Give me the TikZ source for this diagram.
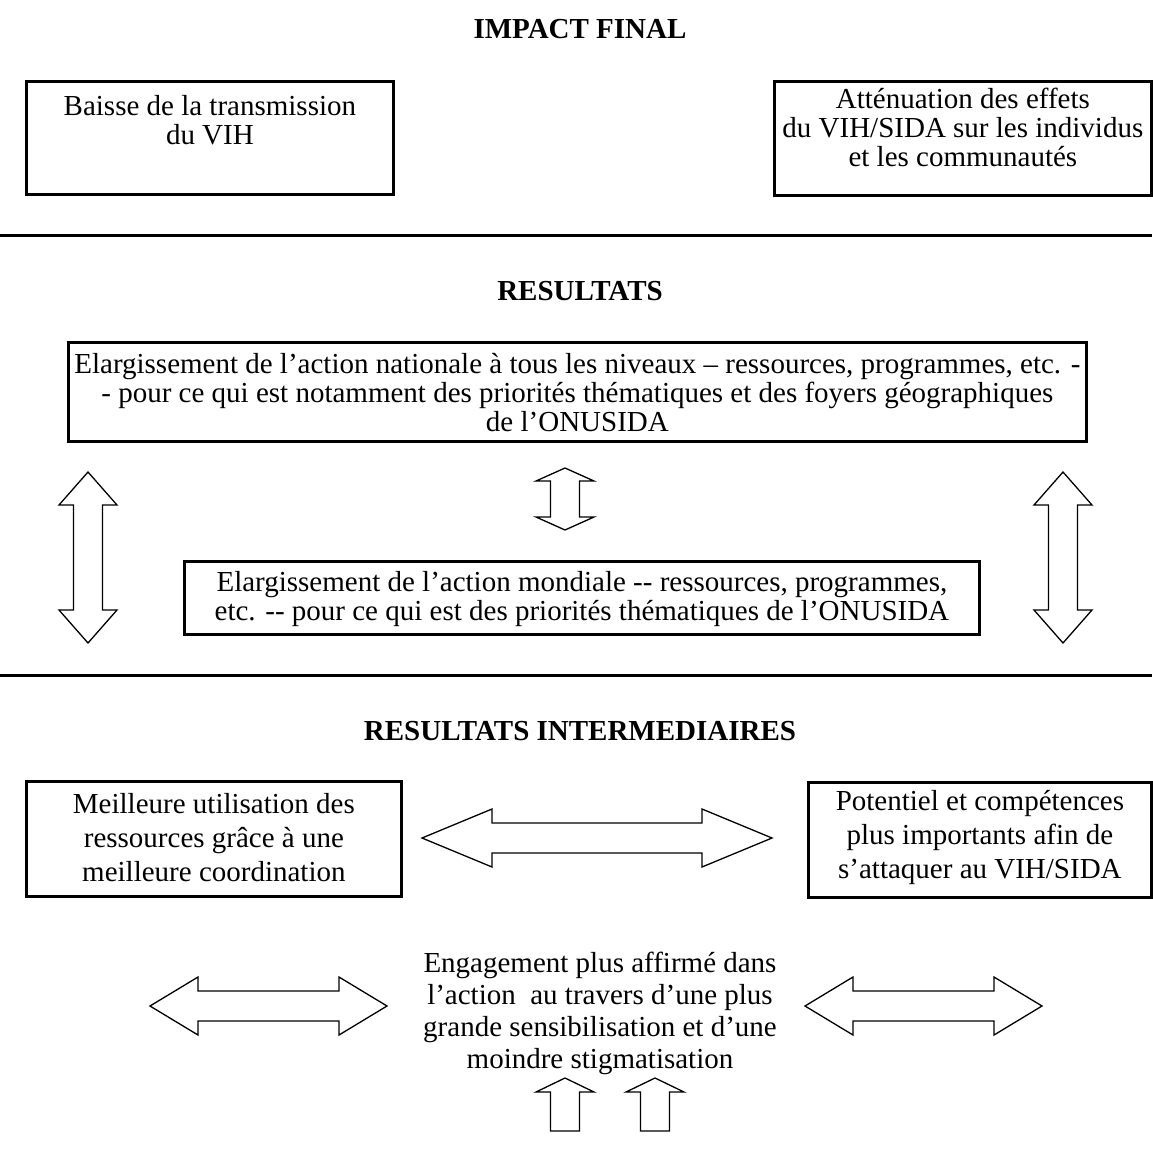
\documentclass[tikz,border=0pt]{standalone}
\usepackage{fontspec}
\setmainfont{Liberation Serif}
\usetikzlibrary{positioning}
\tikzset{
    % Framed boxes (last text baseline set by text height / depth)
    framebox/.style={
        draw,
        line width=2.8pt,
        inner sep=0pt,
        align=center,
        anchor=north west,
        font=\fontsize{29}{29}\selectfont
    },
    looseLines/.style={font=\fontsize{29}{34}\selectfont},
    % Headings and free text
    heading/.style={font=\bfseries\fontsize{29}{29}\selectfont, anchor=base},
    plainText/.style={align=center, anchor=base, font=\fontsize{29}{32}\selectfont},
    % Lines and hollow block arrows
    sepLine/.style={line width=3pt},
    blockArrow/.style={draw, line width=1.3pt, fill=white, line join=miter}
}
% hollow double arrow, horizontal: left x, right x, centre y, head length
\newcommand{\harrowshape}[4]{%
    \draw[blockArrow] (#1,#3) -- ({#1+#4},{#3-29}) -- ({#1+#4},{#3-15})
        -- ({#2-#4},{#3-15}) -- ({#2-#4},{#3-29}) -- (#2,#3)
        -- ({#2-#4},{#3+29}) -- ({#2-#4},{#3+15}) -- ({#1+#4},{#3+15})
        -- ({#1+#4},{#3+29}) -- cycle;}
% hollow double arrow, vertical: centre x, top y, bottom y, head length
\newcommand{\varrowshape}[4]{%
    \draw[blockArrow] (#1,#2) -- ({#1+29},{#2+#4}) -- ({#1+14.5},{#2+#4})
        -- ({#1+14.5},{#3-#4}) -- ({#1+29},{#3-#4}) -- (#1,#3)
        -- ({#1-29},{#3-#4}) -- ({#1-14.5},{#3-#4}) -- ({#1-14.5},{#2+#4})
        -- ({#1-29},{#2+#4}) -- cycle;}
% hollow single arrow pointing up: centre x, tip y, tail y
\newcommand{\uarrowshape}[3]{%
    \draw[blockArrow] (#1,#2) -- ({#1+29},{#2+14}) -- ({#1+14.5},{#2+14})
        -- ({#1+14.5},#3) -- ({#1-14.5},#3) -- ({#1-14.5},{#2+14})
        -- ({#1-29},{#2+14}) -- cycle;}

\begin{document}
\begin{tikzpicture}[x=1pt, y=-1pt]
    \useasboundingbox (0,0) rectangle (1152,1173);

    % --- IMPACT FINAL ---
    \node[heading] (impactTitle) at (580,38) {IMPACT FINAL};

    \node[framebox, minimum width=367pt, text height=63pt, text depth=50pt]
        (impactLow) at (25,80) {Baisse de la transmission\\du VIH};

    \node[framebox, minimum width=377pt, text height=85pt, text depth=29pt]
        (impactEase) at (773,80) {Atténuation des effets\\du VIH/SIDA sur les individus\\et les communautés};

    \draw[sepLine] (0,235) -- (1152,235);

    % --- RESULTATS ---
    \node[heading] (resTitle) at (580,300) {RESULTATS};

    \node[framebox, minimum width=1018pt, text height=89pt, text depth=10pt]
        (resNational) at (67,341) {Elargissement de l’action nationale à tous les niveaux – ressources, programmes, etc. -\\- pour ce qui est notamment des priorités thématiques et des foyers géographiques\\de l’ONUSIDA};

    \node[framebox, minimum width=795pt, text height=59pt, text depth=14pt]
        (resGlobal) at (183,560) {Elargissement de l’action mondiale -{}- ressources, programmes,\\etc. -{}- pour ce qui est des priorités thématiques de l’ONUSIDA};

    \varrowshape{88}{472}{643}{33}
    \varrowshape{1063}{472}{643}{33}
    \varrowshape{565}{468}{530}{13}

    \draw[sepLine] (0,675) -- (1152,675);

    % --- RESULTATS INTERMEDIAIRES ---
    \node[heading] (interTitle) at (580,740) {RESULTATS INTERMEDIAIRES};

    \node[framebox, looseLines, minimum width=375pt, text height=100pt, text depth=15pt]
        (interUse) at (25,780) {Meilleure utilisation des\\ressources grâce à une\\meilleure coordination};

    \node[framebox, looseLines, minimum width=343pt, text height=96pt, text depth=19pt]
        (interSkill) at (807,781) {Potentiel et compétences\\plus importants afin de\\s’attaquer au VIH/SIDA};

    \node[plainText] (engage) at (600,1068)
        {Engagement plus affirmé dans\\l’action\ \ au travers d’une plus\\grande sensibilisation et d’une\\moindre stigmatisation};

    \harrowshape{422}{772}{838}{70}
    \harrowshape{150}{387}{1006}{48}
    \harrowshape{805}{1042}{1006}{48}

    \uarrowshape{565}{1078}{1131}
    \uarrowshape{655}{1078}{1131}

\end{tikzpicture}
\end{document}
